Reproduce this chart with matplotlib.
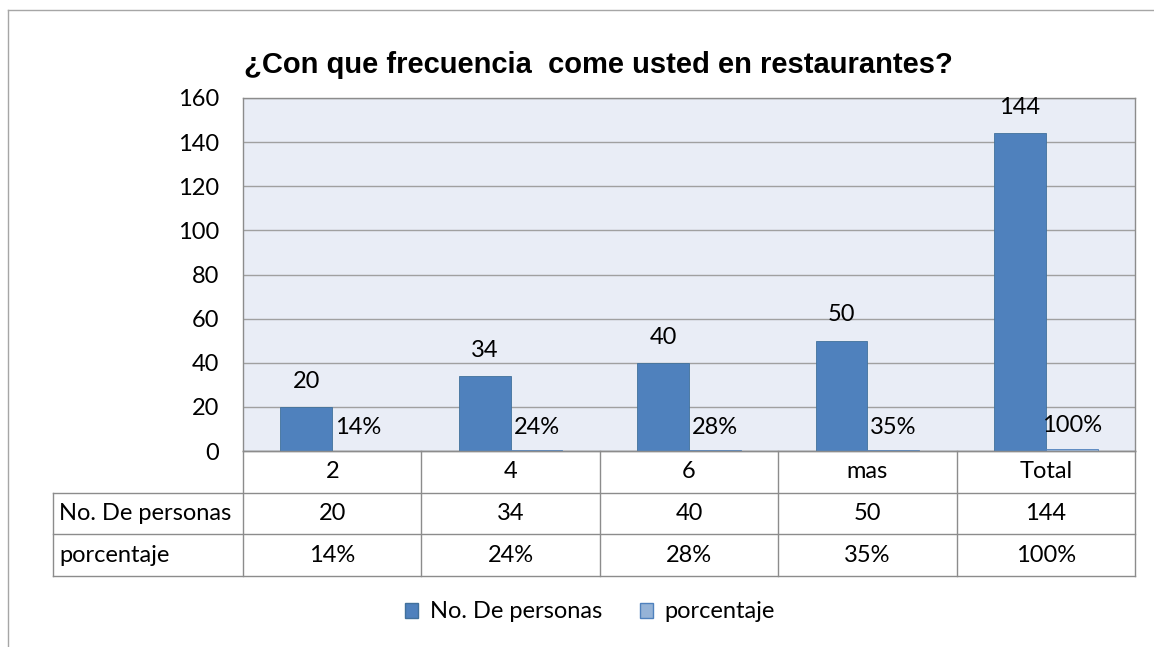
import matplotlib.pyplot as plt
from matplotlib.patches import Rectangle
from matplotlib.lines import Line2D

categorias = ['2', '4', '6', 'mas', 'Total']
personas = [20, 34, 40, 50, 144]
porcentaje = [0.14, 0.24, 0.28, 0.35, 1.00]
etiquetas_pct = ['14%', '24%', '28%', '35%', '100%']
series = ['No. De personas', 'porcentaje']
titulo = '¿Con que frecuencia  come usted en restaurantes?'

W, H = 1154, 647
azul = '#4F81BD'
azul_claro = '#95B3D7'
gris = '#8C8C8C'
fuente = 'Lato'
tam = 17

plt.rcParams['font.family'] = [fuente, 'DejaVu Sans']

fig = plt.figure(figsize=(W / 100, H / 100), dpi=100)

def fx(px):
    return px / W

def fy(py):
    return 1 - py / H

# marco exterior (solo se ve izquierda y arriba)
fig.add_artist(Line2D([fx(8), fx(8)], [fy(10), 0], color='#A6A6A6', lw=1))
fig.add_artist(Line2D([fx(8), 1], [fy(10), fy(10)], color='#A6A6A6', lw=1))

izq, der, arr, aba = 243, 1135, 98, 451
ax = fig.add_axes([fx(izq), fy(aba), fx(der - izq), (aba - arr) / H])
ax.set_facecolor('#E9EDF6')

x = list(range(len(categorias)))
ancho = 0.29
ax.bar([i - ancho / 2 for i in x], personas, width=ancho, color=azul,
       edgecolor='#41719C', linewidth=0.6, zorder=3)
ax.bar([i + ancho / 2 for i in x], porcentaje, width=ancho, color=azul_claro,
       edgecolor=azul, linewidth=0.6, zorder=3)

for i in x:
    ax.annotate(str(personas[i]), (i - ancho / 2, personas[i]), xytext=(0, 18.5),
                textcoords='offset points', ha='center', va='center', fontsize=tam)
    ax.annotate(etiquetas_pct[i], (i + ancho / 2, porcentaje[i]), xytext=(0, 16.5),
                textcoords='offset points', ha='center', va='center', fontsize=tam)

ax.set_xlim(-0.5, len(categorias) - 0.5)
ax.set_ylim(0, 160)
ax.set_yticks(range(0, 161, 20))
ax.set_xticks([])
ax.tick_params(axis='y', length=0, pad=17, labelsize=tam)
ax.grid(axis='y', color='#A0A0A0', linewidth=1, zorder=0)
ax.set_axisbelow(True)
for s in ax.spines.values():
    s.set_color(gris)
    s.set_linewidth(1)

fig.text(fx(598), fy(65), titulo, ha='center', va='center', fontsize=21,
         fontweight='bold', family=['Liberation Sans', 'DejaVu Sans'])

# tabla de datos
filas = [451, 493, 534, 576]
col_w = (der - izq) / len(categorias)
lab_izq = 53
kw = dict(color=gris, lw=1)
fig.add_artist(Line2D([fx(izq), fx(der)], [fy(filas[0]), fy(filas[0])], **kw))
for py in filas[1:]:
    fig.add_artist(Line2D([fx(lab_izq), fx(der)], [fy(py), fy(py)], **kw))
fig.add_artist(Line2D([fx(lab_izq), fx(lab_izq)], [fy(filas[1]), fy(filas[3])], **kw))
for j in range(len(categorias) + 1):
    px = izq + j * col_w
    fig.add_artist(Line2D([fx(px), fx(px)], [fy(filas[0]), fy(filas[3])], **kw))

valores_tabla = [categorias, [str(v) for v in personas], etiquetas_pct]
for r, fila in enumerate(valores_tabla):
    cy = (filas[r] + filas[r + 1]) / 2
    for j, txt in enumerate(fila):
        fig.text(fx(izq + (j + 0.5) * col_w), fy(cy), txt, ha='center', va='center',
                 fontsize=tam)
    if r > 0:
        fig.text(fx(lab_izq + 6), fy(cy), series[r - 1], ha='left', va='center',
                 fontsize=tam)

handles = [Rectangle((0, 0), 1, 1, facecolor=azul, edgecolor='#41719C'),
           Rectangle((0, 0), 1, 1, facecolor=azul_claro, edgecolor=azul)]
fig.legend(handles, series, loc='center', bbox_to_anchor=(fx(590), fy(612)), ncol=2,
           frameon=False, fontsize=tam, handlelength=0.55, handleheight=0.6,
           handletextpad=0.5, columnspacing=1.6)

fig.savefig('out.png', dpi=100)
